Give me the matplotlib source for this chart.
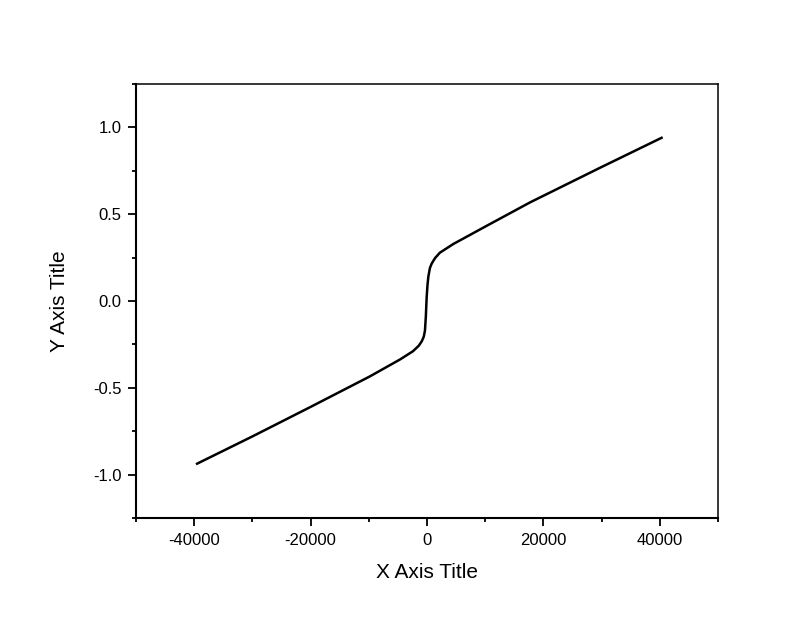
import matplotlib.pyplot as plt
from matplotlib.ticker import MultipleLocator

plt.rcParams['font.family'] = ['Liberation Sans', 'DejaVu Sans']

# curve values
x_vals = [-39500, -30000, -20000, -9800, -4600, -2400, -1400, -900, -550,
          -350, -200, -60, 80, 230, 500, 800, 1100, 1400, 2200, 4500, 10300,
          17700, 30000, 40300]
y_vals = [-0.937, -0.78, -0.61, -0.434, -0.336, -0.289, -0.257, -0.232, -0.205,
          -0.17, -0.09, 0.02, 0.09, 0.14, 0.19, 0.215, 0.232, 0.248, 0.278, 0.328,
          0.434, 0.568, 0.772, 0.94]

fig = plt.figure(figsize=(8, 6.26), dpi=100)
ax = fig.add_axes([0.17, 0.1725, 0.7275, 0.6933])
ax.plot(x_vals, y_vals, color='black', lw=1.8)

ax.set_xlim(-50000, 50000)
ax.set_ylim(-1.25, 1.25)
ax.xaxis.set_minor_locator(MultipleLocator(10000))
ax.yaxis.set_minor_locator(MultipleLocator(0.25))
ax.set_xticks([-40000, -20000, 0, 20000, 40000])
ax.set_yticks([-1.0, -0.5, 0.0, 0.5, 1.0])
ax.set_yticklabels(['-1.0', '-0.5', '0.0', '0.5', '1.0'])
ax.set_xticklabels(['-40000', '-20000', '0', '20000', '40000'])

ax.tick_params(which='major', direction='out', length=5.5, width=1.3, labelsize=12, pad=5)
ax.tick_params(which='minor', direction='out', length=3, width=1.3)
ax.tick_params(top=False, right=False)
for side in ['left', 'bottom']:
    ax.spines[side].set_linewidth(1.5)
for side in ['top', 'right']:
    ax.spines[side].set_linewidth(1.1)

ax.set_xlabel('X Axis Title', fontsize=15, labelpad=11)
ax.set_ylabel('Y Axis Title', fontsize=15, labelpad=17)

fig.savefig('out.png', dpi=100)
